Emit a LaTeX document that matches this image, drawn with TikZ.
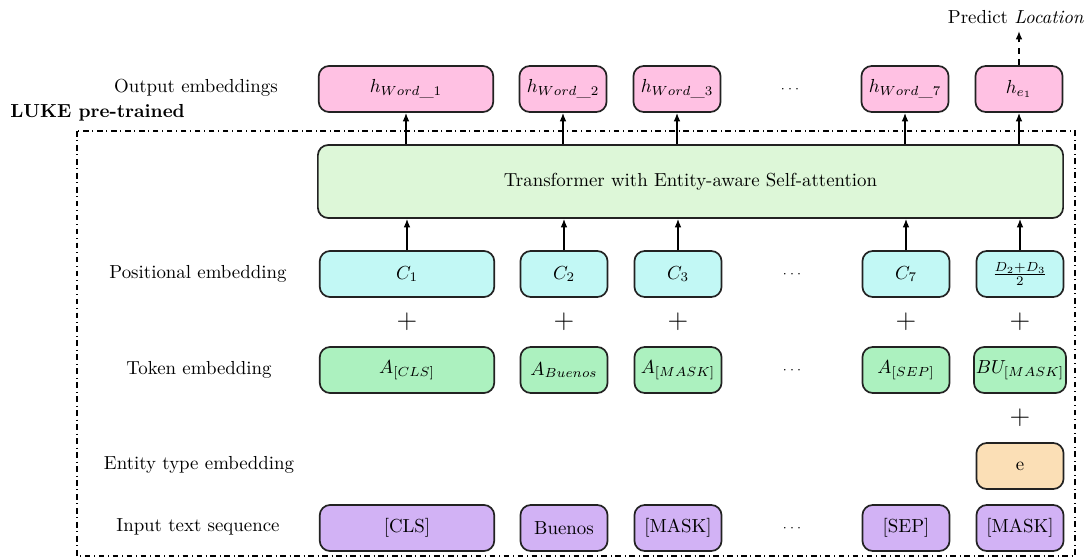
\documentclass[tikz,border=0pt]{standalone}
\usetikzlibrary{arrows.meta}
\definecolor{pinkc}{HTML}{FFC1E3}
\definecolor{trc}{HTML}{DDF7D8}
\definecolor{cyanc}{HTML}{C2F8F5}
\definecolor{tokc}{HTML}{ACF1BF}
\definecolor{entc}{HTML}{FBDFB6}
\definecolor{inpc}{HTML}{D2B2F5}
\definecolor{edgec}{HTML}{222222}
\begin{document}
\begin{tikzpicture}[x=0.53pt,y=-0.53pt,
  emb/.style={draw=edgec,line width=0.9pt,rounded corners=5.5pt,minimum height=24.4pt,inner sep=1pt,align=center},
  wide/.style={emb,minimum width=92.5pt},
  narrow/.style={emb,minimum width=46.2pt},
  lbl/.style={inner sep=0pt},
  dots/.style={inner sep=0pt,font=\scriptsize},
  arr/.style={-{Latex[length=4.5pt,width=3.6pt]},line width=0.8pt},
  plus/.style={inner sep=0pt,font=\Large}]
\useasboundingbox (0,0) rectangle (1092,560);
% frame
\node[lbl,font=\bfseries,anchor=west] (luke) at (10,113) {LUKE pre-trained};
\draw[dash dot,line width=0.7pt] (77,131) rectangle (1075,556);
% row labels
\node[lbl] (lout) at (196,88) {Output embeddings};
\node[lbl] (lpos) at (198,274) {Positional embedding};
\node[lbl] (ltok) at (199,370) {Token embedding};
\node[lbl] (lent) at (199,465) {Entity type embedding};
\node[lbl] (linp) at (198,527) {Input text sequence};
% output row
\node[wide,fill=pinkc] (o1) at (406,89) {$h_{Word\_1}$};
\node[narrow,fill=pinkc] (o2) at (563,89) {$h_{Word\_2}$};
\node[narrow,fill=pinkc] (o3) at (677,89) {$h_{Word\_3}$};
\node[dots] (od) at (790,89) {$\cdots$};
\node[narrow,fill=pinkc] (o7) at (905,89) {$h_{Word\_7}$};
\node[narrow,fill=pinkc] (oe) at (1019,89) {$h_{e_1}$};
% transformer
\node[emb,fill=trc,minimum width=395pt,minimum height=38.7pt] (tr) at (690.5,181.5) {Transformer with Entity-aware Self-attention};
% positional row
\node[wide,fill=cyanc] (p1) at (407,274) {$C_1$};
\node[narrow,fill=cyanc] (p2) at (564,274) {$C_2$};
\node[narrow,fill=cyanc] (p3) at (678,274) {$C_3$};
\node[dots] (pd) at (792,274) {$\cdots$};
\node[narrow,fill=cyanc] (p7) at (906,274) {$C_7$};
\node[narrow,fill=cyanc] (pe) at (1020,274) {$\frac{D_2+D_3}{2}$};
% plus signs
\node[plus] (s1) at (407,322) {$+$};
\node[plus] (s2) at (564,322) {$+$};
\node[plus] (s3) at (678,322) {$+$};
\node[plus] (s7) at (906,322) {$+$};
\node[plus] (se) at (1020,322) {$+$};
\node[plus] (sf) at (1020,418) {$+$};
% token row
\node[wide,fill=tokc] (t1) at (407,370) {$A_{[CLS]}$};
\node[narrow,fill=tokc] (t2) at (564,370) {$A_{Buenos}$};
\node[narrow,fill=tokc] (t3) at (678,370) {$A_{[MASK]}$};
\node[dots] (td) at (792,370) {$\cdots$};
\node[narrow,fill=tokc] (t7) at (906,370) {$A_{[SEP]}$};
\node[narrow,fill=tokc] (te) at (1020,370) {$BU_{[MASK]}$};
% entity type
\node[narrow,fill=entc] (ee) at (1020,466) {e};
% input row
\node[wide,fill=inpc] (i1) at (407,528) {[CLS]};
\node[narrow,fill=inpc] (i2) at (564,528) {Buenos};
\node[narrow,fill=inpc] (i3) at (678,528) {[MASK]};
\node[dots] (id) at (792,528) {$\cdots$};
\node[narrow,fill=inpc] (i7) at (906,528) {[SEP]};
\node[narrow,fill=inpc] (ie) at (1020,528) {[MASK]};
% arrows transformer -> outputs
\foreach \n in {o1,o2,o3,o7,oe}
  \draw[arr] (tr.north -| \n.south) -- (\n.south);
% arrows positional -> transformer
\foreach \n in {p1,p2,p3,p7,pe}
  \draw[arr] (\n.north) -- (\n.north |- tr.south);
% prediction
\coordinate (pt) at (1019,31);
\node[lbl] (pred) at (1016,17) {Predict \textit{Location}};
\draw[arr,dashed] (oe.north) -- (pt);
\end{tikzpicture}
\end{document}
